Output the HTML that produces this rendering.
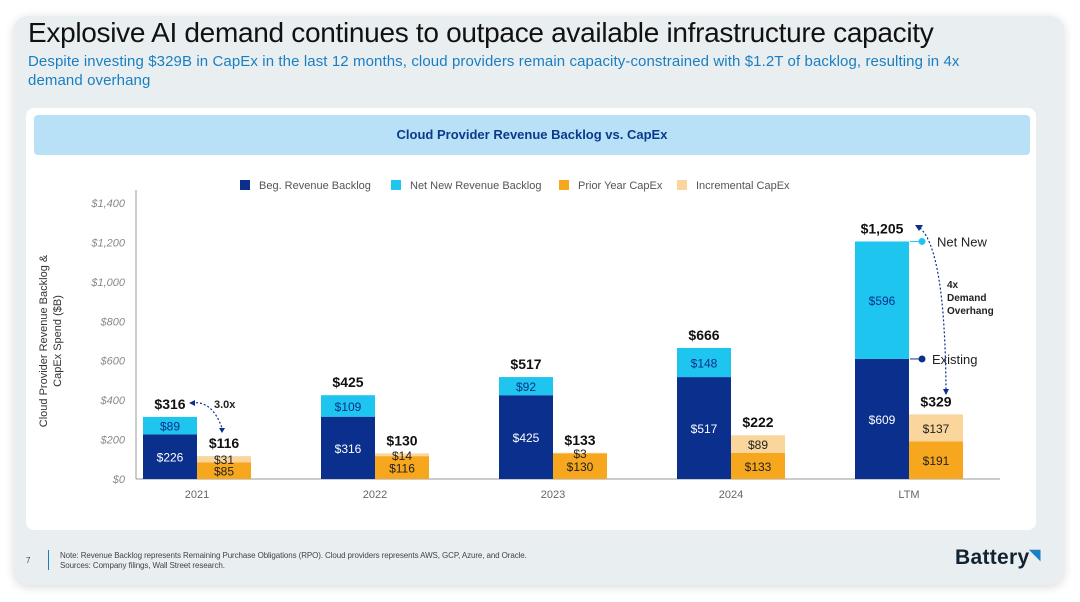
<!DOCTYPE html>
<html><head><meta charset="utf-8"><style>
body{margin:0;width:1080px;height:602px;background:#fff;font-family:"Liberation Sans",sans-serif;overflow:hidden;position:relative}
#card{position:absolute;left:14px;top:16px;width:1050px;height:569px;background:#e9eef0;border-radius:14px;box-shadow:0 2px 10px rgba(0,0,0,.15)}
h1{position:absolute;left:28px;top:17px;margin:0;font-weight:normal;font-size:28px;color:#111;letter-spacing:-.3px}
#sub{position:absolute;left:28px;top:52px;width:960px;font-size:15px;line-height:19px;color:#1a7fc1;letter-spacing:.1px}
#panel{position:absolute;left:26px;top:108px;width:1010px;height:422px;background:#fff;border-radius:8px}
#band{position:absolute;left:34px;top:115px;width:996px;height:40px;background:#b8e1f7;border-radius:4px;text-align:center;line-height:40px;font-weight:bold;font-size:13px;color:#0b3a8c}
svg{position:absolute;left:0;top:0}
#note{position:absolute;left:60px;top:551px;font-size:8px;color:#444;line-height:10px;letter-spacing:-.1px}
#pg{position:absolute;left:26px;top:556px;font-size:8px;color:#444}
#bar{position:absolute;left:48px;top:550px;width:1px;height:20px;background:#1a7fc1}
#logo{position:absolute;left:955px;top:546px;font-size:21px;color:#123;font-weight:bold;letter-spacing:.3px}
</style></head><body>
<div id="card"></div>
<h1>Explosive AI demand continues to outpace available infrastructure capacity</h1>
<div id="sub">Despite investing $329B in CapEx in the last 12 months, cloud providers remain capacity-constrained with $1.2T of backlog, resulting in 4x demand overhang</div>
<div id="panel"></div>
<div id="band">Cloud Provider Revenue Backlog vs. CapEx</div>
<svg id="chart" width="1080" height="602"></svg>
<div id="pg">7</div>
<div id="bar"></div>
<div id="note">Note: Revenue Backlog represents Remaining Purchase Obligations (RPO). Cloud providers represents AWS, GCP, Azure, and Oracle.<br>Sources: Company filings, Wall Street research.</div>
<div id="logo">Battery<span style="color:#1a7fc1;font-size:14px;vertical-align:top">◥</span></div>
<script>
const categories=["2021","2022","2023","2024","LTM"];
const begBacklog=[226,316,425,517,609];
const netNewBacklog=[89,109,92,148,596];
const priorCapex=[85,116,130,133,191];
const incrCapex=[31,14,3,89,137];
const backlogTotals=["$316","$425","$517","$666","$1,205"];
const capexTotals=["$116","$130","$133","$222","$329"];
const yTicks=[0,200,400,600,800,1000,1200,1400];
const yTickLabels=["$0","$200","$400","$600","$800","$1,000","$1,200","$1,400"];
const legendLabels=["Beg. Revenue Backlog","Net New Revenue Backlog","Prior Year CapEx","Incremental CapEx"];
const colors=["#0b2f8c","#1ec5ef","#f6a71e","#fbd69c"];
const svg=document.getElementById('chart');
const NS="http://www.w3.org/2000/svg";
const y0=479,yTop=203,yMax=1400;
function y(v){return y0-(v/yMax)*(y0-yTop);}
function xc(i){return 197+i*178;}
const bw=54;
function el(t,a,txt){const e=document.createElementNS(NS,t);for(const k in a)e.setAttribute(k,a[k]);if(txt!==undefined)e.textContent=txt;svg.appendChild(e);return e;}
let ax=el('line',{x1:136,y1:y0,x2:1000,y2:y0,stroke:'#999','stroke-width':1});


let ay=el('line',{x1:136,y1:190,x2:136,y2:y0,stroke:'#999','stroke-width':1});


yTicks.forEach((t,i)=>{const e=el('text',{x:125,y:y(t)+4,'text-anchor':'end','font-size':11,'font-style':'italic',fill:'#888'},yTickLabels[i]);

});
let yt=el('text',{transform:'translate(47,341) rotate(-90)','text-anchor':'middle','font-size':11,fill:'#333'},'Cloud Provider Revenue Backlog &');


let yt2=el('text',{transform:'translate(61,341) rotate(-90)','text-anchor':'middle','font-size':11,fill:'#333'},'CapEx Spend ($B)');


const lx=[240,391,559,677];
legendLabels.forEach((l,i)=>{const r=el('rect',{x:lx[i],y:180,width:10,height:10,fill:colors[i]});


const t=el('text',{x:lx[i]+19,y:189,'font-size':11,fill:'#555'},l);

});
function seg(x,v0,v1,c,lbl,tc,name){const r=el('rect',{x:x,y:y(v1),width:bw,height:y(v0)-y(v1),fill:c});


if(lbl){const t=el('text',{x:x+bw/2,y:(y(v0)+y(v1))/2+5,'text-anchor':'middle','font-size':12,fill:tc},lbl);

}}
categories.forEach((c,i)=>{
 const bx=xc(i)-bw,cx=xc(i);
 seg(bx,0,begBacklog[i],colors[0],'$'+begBacklog[i],'#fff','bar-beg-backlog');
 seg(bx,begBacklog[i],begBacklog[i]+netNewBacklog[i],colors[1],'$'+netNewBacklog[i],'#0b2f8c','bar-net-new-backlog');
 seg(cx,0,priorCapex[i],colors[2],'$'+priorCapex[i],'#222','bar-prior-capex');
 seg(cx,priorCapex[i],priorCapex[i]+incrCapex[i],colors[3],'$'+incrCapex[i],'#222','bar-incremental-capex');
 const bt=begBacklog[i]+netNewBacklog[i],ct=priorCapex[i]+incrCapex[i];
 let t1=el('text',{x:bx+bw/2,y:y(bt)-8,'text-anchor':'middle','font-size':14,'font-weight':'bold',fill:'#111'},backlogTotals[i]);
 
 
 let t2=el('text',{x:cx+bw/2,y:y(ct)-8,'text-anchor':'middle','font-size':14,'font-weight':'bold',fill:'#111'},capexTotals[i]);
 
 
 let xl=el('text',{x:xc(i),y:498,'text-anchor':'middle','font-size':11,fill:'#666'},c);
 
 
});
let a1=el('path',{d:'M192 403 Q212 400 222 428',fill:'none',stroke:'#0b2f8c','stroke-dasharray':'2,2','stroke-width':1.2});


el('path',{d:'M189 403 l6 -3 l0 6 z M219 428 l6 0 l-3 5 z',fill:'#0b2f8c'});
let a1t=el('text',{x:214,y:408,'font-size':11,'font-weight':'bold',fill:'#222'},'3.0x');


const lt=begBacklog[4]+netNewBacklog[4],le=begBacklog[4];
el('line',{x1:910,y1:y(lt),x2:922,y2:y(lt),stroke:'#1ec5ef'});
el('circle',{cx:922,cy:y(lt),r:3.5,fill:'#1ec5ef'});
let nn=el('text',{x:937,y:y(lt)+5,'font-size':13,fill:'#222'},'Net New');


el('line',{x1:910,y1:y(le),x2:922,y2:y(le),stroke:'#0b2f8c'});
el('circle',{cx:922,cy:y(le),r:3.5,fill:'#0b2f8c'});
let ex=el('text',{x:932,y:y(le)+5,'font-size':13,fill:'#222'},'Existing');


let a2=el('path',{d:'M920 228 Q945 250 946 390',fill:'none',stroke:'#0b2f8c','stroke-dasharray':'2,2','stroke-width':1.2});


el('path',{d:'M915 225 l8 0 l-4 6 z M943 389 l6 0 l-3 6 z',fill:'#0b2f8c'});
['4x','Demand','Overhang'].forEach((s,k)=>{const t=el('text',{x:947,y:288+k*13,'font-size':10,'font-weight':'bold',fill:'#222'},s);

});
</script>
</body></html>
